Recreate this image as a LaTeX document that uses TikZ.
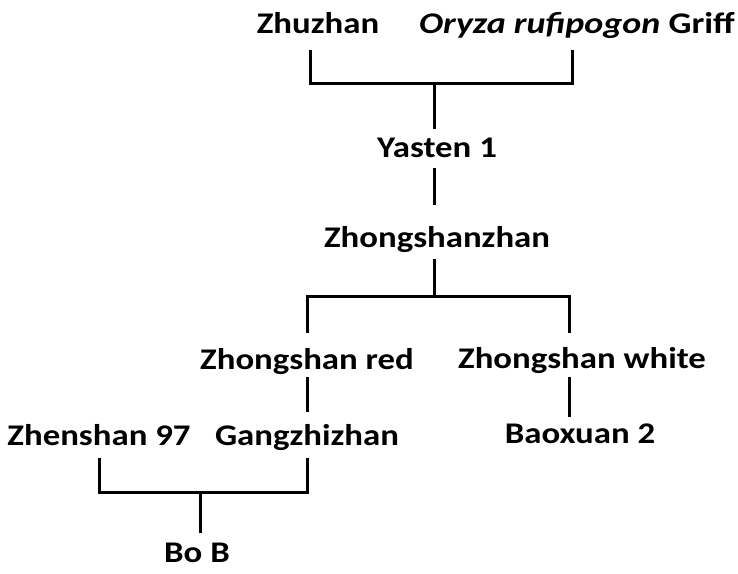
\documentclass[tikz,border=0pt]{standalone}
\usepackage{fontspec}
\setmainfont{Carlito}
\newfontfamily\lblfont{Carlito}[FakeStretch=1.16]
\newfontfamily\orfont{Carlito}[FakeStretch=1.2]
\begin{document}
\begin{tikzpicture}[x=1pt,y=-1pt,
  lbl/.style={font=\lblfont\bfseries\fontsize{30}{30}\selectfont, inner sep=0pt, anchor=base},
  ln/.style={line width=3pt}]
\useasboundingbox (0,0) rectangle (738,573);
% labels
\node[lbl] (zhuzhan) at (318,33) {Zhuzhan};
\node[lbl, font=\orfont\bfseries\fontsize{30}{30}\selectfont] (oryza) at (577,33) {\textit{Oryza rufipogon} Griff};
\node[lbl] (yasten) at (437,157) {Yasten 1};
\node[lbl] (zsz) at (437,247) {Zhongshanzhan};
\node[lbl] (zsred) at (307,369) {Zhongshan red};
\node[lbl] (zswhite) at (582,368) {Zhongshan white};
\node[lbl] (zs97) at (99,445) {Zhenshan 97};
\node[lbl] (gzz) at (307,445) {Gangzhizhan};
\node[lbl] (bx2) at (580,443) {Baoxuan 2};
\node[lbl] (bob) at (197,562) {Bo B};
% junction coordinates
\coordinate (j1l) at (310,50);
\coordinate (j1r) at (572,50);
\coordinate (j1) at (434,83);
\coordinate (y1t) at (434,129);
\coordinate (y1b) at (434,168);
\coordinate (zt) at (434,205);
\coordinate (zb) at (434,259);
\coordinate (j2) at (434,296);
\coordinate (j2l) at (307,333);
\coordinate (j2r) at (569,333);
\coordinate (redb) at (307,377);
\coordinate (gzt) at (307,412);
\coordinate (whb) at (569,377);
\coordinate (bxt) at (569,417);
\coordinate (j3l) at (99,458);
\coordinate (j3r) at (307,458);
\coordinate (j3) at (200,492);
\coordinate (bobt) at (200,533);
% connectors
\draw[ln] (j1l) |- (j1) -| (j1r);
\draw[ln] (j1) -- (y1t);
\draw[ln] (y1b) -- (zt);
\draw[ln] (zb) -- (j2);
\draw[ln] (j2l) |- (j2) -| (j2r);
\draw[ln] (redb) -- (gzt);
\draw[ln] (whb) -- (bxt);
\draw[ln] (j3l) |- (j3) -| (j3r);
\draw[ln] (j3) -- (bobt);
\end{tikzpicture}
\end{document}
